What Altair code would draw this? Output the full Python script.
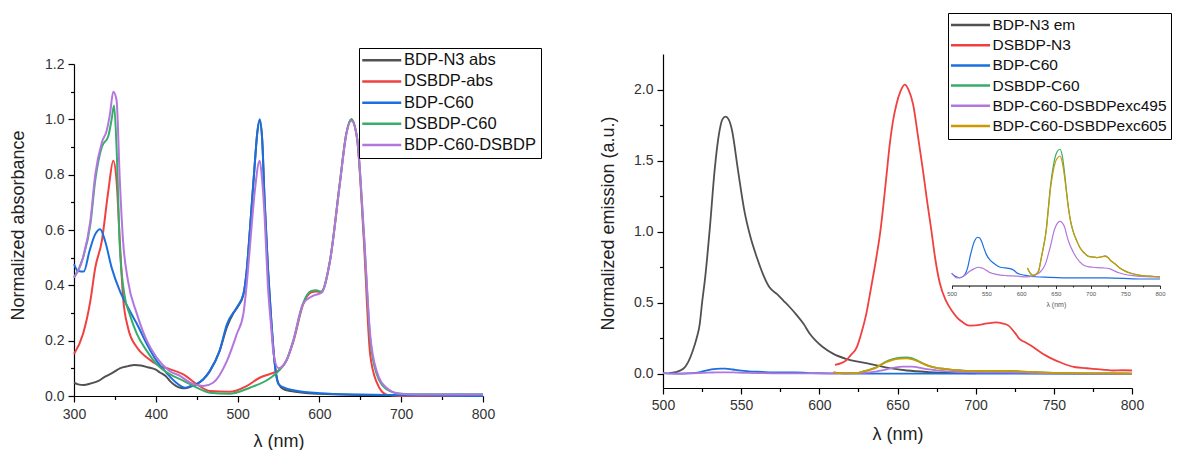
import altair as alt
import pandas as pd

FONT = "Liberation Sans"

# ---------------- Left panel: absorbance ----------------
abs_names = ["BDP-N3 abs", "DSBDP-abs", "BDP-C60", "DSBDP-C60", "BDP-C60-DSBDP"]
abs_colors = ["#515151", "#F14040", "#1A6FDF", "#37AD6B", "#B177DE"]

bdpn3_abs_wl = [300, 305, 312, 320, 330, 338, 348, 356, 366, 374, 382, 390, 400, 405, 412, 418, 425, 430, 436,
                442, 450, 458, 466, 478, 487, 495, 500, 507, 511, 515, 521, 524, 527, 530, 533, 537, 541, 545,
                550, 556, 565, 580, 600, 650, 700, 800]
bdpn3_abs_val = [0.048, 0.042, 0.040, 0.045, 0.055, 0.070, 0.085, 0.100, 0.108, 0.112, 0.110, 0.104, 0.095,
                 0.085, 0.072, 0.052, 0.036, 0.030, 0.028, 0.033, 0.043, 0.060, 0.090, 0.163, 0.250, 0.300,
                 0.322, 0.365, 0.450, 0.600, 0.840, 0.950, 0.995, 0.930, 0.710, 0.470, 0.280, 0.130, 0.045,
                 0.025, 0.018, 0.012, 0.008, 0.004, 0.002, 0.0]

dsbdp_abs_wl = [300, 311, 320, 326, 334, 342, 348, 352, 356, 360, 366, 377, 389, 405, 417, 433, 450, 466, 490,
                511, 527, 540, 550, 560, 568, 580, 590, 596, 602, 613, 625, 633, 639, 646, 654, 662, 670, 682,
                698, 800]
dsbdp_abs_val = [0.152, 0.224, 0.344, 0.464, 0.560, 0.742, 0.850, 0.778, 0.560, 0.356, 0.247, 0.175, 0.139,
                 0.108, 0.097, 0.079, 0.043, 0.018, 0.015, 0.036, 0.066, 0.080, 0.092, 0.130, 0.195, 0.330,
                 0.375, 0.378, 0.375, 0.490, 0.770, 0.950, 1.000, 0.930, 0.580, 0.152, 0.050, 0.005, 0.0, 0.0]

bdpc60_abs_wl = [300, 305, 312, 319, 326, 332, 338, 346, 356, 366, 377, 389, 401, 413, 425, 436, 442, 450, 466,
                 478, 487, 499, 507, 511, 515, 521, 524, 527, 530, 533, 537, 541, 545, 550, 557, 570, 600, 650,
                 700, 800]
bdpc60_abs_val = [0.477, 0.452, 0.450, 0.525, 0.585, 0.603, 0.560, 0.464, 0.380, 0.320, 0.260, 0.188, 0.127,
                  0.084, 0.048, 0.030, 0.035, 0.043, 0.090, 0.163, 0.260, 0.320, 0.368, 0.450, 0.597, 0.840,
                  0.950, 1.000, 0.930, 0.705, 0.464, 0.283, 0.127, 0.043, 0.030, 0.020, 0.010, 0.005, 0.003, 0.0]

dsbdpc60_abs_wl = [300, 311, 320, 326, 334, 342, 346, 349, 352, 356, 362, 368, 377, 389, 401, 417, 434, 450,
                   466, 490, 515, 540, 550, 560, 568, 580, 590, 596, 602, 613, 625, 633, 639, 646, 654, 662,
                   670, 682, 700, 720, 800]
dsbdpc60_abs_val = [0.428, 0.500, 0.620, 0.780, 0.900, 0.940, 1.000, 1.050, 0.900, 0.540, 0.360, 0.296, 0.224,
                    0.163, 0.115, 0.079, 0.055, 0.030, 0.012, 0.008, 0.030, 0.065, 0.090, 0.130, 0.200, 0.335,
                    0.380, 0.382, 0.378, 0.490, 0.770, 0.950, 1.000, 0.935, 0.600, 0.210, 0.080, 0.025, 0.008,
                    0.006, 0.006]

triad_abs_wl = [300, 311, 320, 326, 334, 340, 344, 348, 352, 356, 360, 366, 377, 389, 401, 417, 430, 442, 458,
                470, 487, 499, 507, 511, 515, 521, 527, 530, 533, 537, 541, 544, 550, 560, 568, 580, 592, 603,
                613, 625, 633, 639, 646, 654, 662, 670, 682, 698, 720, 800]
triad_abs_val = [0.428, 0.500, 0.633, 0.800, 0.916, 0.960, 1.020, 1.100, 1.070, 0.780, 0.560, 0.416, 0.296,
                 0.200, 0.139, 0.090, 0.072, 0.048, 0.036, 0.048, 0.127, 0.224, 0.296, 0.400, 0.537, 0.740,
                 0.850, 0.780, 0.650, 0.400, 0.250, 0.152, 0.100, 0.130, 0.199, 0.333, 0.362, 0.374, 0.488,
                 0.766, 0.947, 0.995, 0.934, 0.609, 0.224, 0.090, 0.030, 0.008, 0.005, 0.005]

# ---------------- Right panel: emission ----------------
em_names = ["BDP-N3 em", "DSBDP-N3", "BDP-C60", "DSBDP-C60", "BDP-C60-DSBDPexc495", "BDP-C60-DSBDPexc605"]
em_colors = ["#515151", "#F14040", "#1A6FDF", "#37AD6B", "#B177DE", "#CC9900"]
inset_names = ["BDP-C60", "DSBDP-C60", "BDP-C60-DSBDPexc495", "BDP-C60-DSBDPexc605"]

bdpn3_em_wl = [504, 508, 513, 516, 519, 521.5, 523.5, 525, 527, 530, 533, 536, 538, 540, 542, 544, 548, 552,
               556, 560, 564, 568, 573, 577, 581, 585, 590, 594, 598, 602, 609, 617, 630, 645, 656, 670, 685, 700]
bdpn3_em_val = [0.005, 0.012, 0.035, 0.08, 0.16, 0.25, 0.35, 0.50, 0.68, 1.03, 1.43, 1.70, 1.79, 1.81, 1.79,
                1.72, 1.43, 1.15, 0.96, 0.82, 0.70, 0.61, 0.56, 0.515, 0.47, 0.42, 0.35, 0.28, 0.23, 0.19, 0.14,
                0.105, 0.075, 0.04, 0.023, 0.012, 0.006, 0.003]

dsbdpn3_em_wl = [610, 614, 617, 620, 624, 627, 630, 633, 636.5, 639, 641, 643, 645, 647, 649.3, 652, 654.6, 657,
                 660, 663, 666.3, 669, 671.7, 674, 677, 681, 685, 688, 692, 696, 700, 705, 709, 713, 717, 721,
                 725, 728, 732, 737, 741, 745, 750, 754, 759, 764, 770, 775, 781, 788, 794, 800]
dsbdpn3_em_val = [0.063, 0.075, 0.093, 0.13, 0.187, 0.29, 0.42, 0.60, 0.82, 1.0, 1.19, 1.40, 1.61, 1.77, 1.895,
                  1.99, 2.035, 2.0, 1.895, 1.68, 1.43, 1.21, 1.006, 0.82, 0.64, 0.514, 0.44, 0.397, 0.36, 0.339,
                  0.34, 0.35, 0.357, 0.362, 0.355, 0.339, 0.29, 0.245, 0.22, 0.187, 0.155, 0.128, 0.10, 0.081,
                  0.06, 0.046, 0.04, 0.035, 0.03, 0.023, 0.025, 0.023]

bdpc60_em_wl = [500, 505, 512, 519, 523, 526, 529, 531, 534, 537, 540, 543, 546, 550, 555, 560, 565, 570, 577,
                584, 590, 594, 600, 608, 620, 640, 675, 723, 771, 800]
bdpc60_em_val = [0.005, 0.0024, 0.001, 0.004, 0.01, 0.0186, 0.026, 0.0305, 0.035, 0.037, 0.0365, 0.0334, 0.028,
                 0.0216, 0.017, 0.0142, 0.012, 0.0104, 0.0098, 0.0092, 0.0075, 0.0053, 0.004, 0.003, 0.002,
                 0.0015, 0.001, 0.001, 0.0, 0.0]

c605_wl = [609, 613, 617, 621, 625, 629, 632, 636, 639, 642.5, 646, 649, 652, 656, 659, 662, 665, 668, 671, 675,
           680, 685, 691, 697, 703, 709, 715, 721, 725, 730, 736, 742, 750, 757, 771, 785, 800]
dsbdpc60_em_val = [0.0098, 0.0053, 0.0032, 0.004, 0.0068, 0.0186, 0.028, 0.043, 0.062, 0.084, 0.099, 0.108,
                   0.113, 0.115, 0.110, 0.097, 0.080, 0.064, 0.052, 0.042, 0.034, 0.0275, 0.023, 0.0201, 0.0195,
                   0.019, 0.0195, 0.0205, 0.019, 0.0157, 0.013, 0.0098, 0.007, 0.0053, 0.0032, 0.0025, 0.0018]
exc605_em_val = [0.0098, 0.0053, 0.0032, 0.004, 0.0068, 0.0186, 0.028, 0.042, 0.060, 0.081, 0.095, 0.103, 0.107,
                 0.109, 0.104, 0.093, 0.078, 0.063, 0.052, 0.042, 0.034, 0.0275, 0.023, 0.0201, 0.0195, 0.019,
                 0.0195, 0.0201, 0.019, 0.0157, 0.013, 0.0098, 0.007, 0.0053, 0.0032, 0.0025, 0.0018]

exc495_wl = [500, 507, 517, 526, 532, 538, 543, 548, 554, 560, 570, 579, 595, 608, 616, 622, 627, 632, 636, 639,
             643, 646, 650, 653, 656, 659, 663, 666, 670, 675, 680, 689, 696, 703, 710, 718, 728, 735, 742, 750,
             761, 780, 800]
exc495_em_val = [0.0053, 0.001, 0.0024, 0.0068, 0.009, 0.0104, 0.0098, 0.0085, 0.006, 0.0047, 0.0035, 0.003,
                 0.0025, 0.0018, 0.0025, 0.004, 0.006, 0.0098, 0.015, 0.0216, 0.031, 0.0394, 0.047, 0.050,
                 0.051, 0.050, 0.0453, 0.038, 0.0305, 0.024, 0.0186, 0.0127, 0.011, 0.0104, 0.010, 0.0098,
                 0.009, 0.007, 0.0053, 0.004, 0.003, 0.002, 0.0018]


def long_table(names, wls, vals):
    rows = []
    for k, (n, w, v) in enumerate(zip(names, wls, vals)):
        for a, b in zip(w, v):
            rows.append({"series": n, "k": k, "wl": a, "val": b})
    return pd.DataFrame(rows)


abs_df = long_table(abs_names,
                    [bdpn3_abs_wl, dsbdp_abs_wl, bdpc60_abs_wl, dsbdpc60_abs_wl, triad_abs_wl],
                    [bdpn3_abs_val, dsbdp_abs_val, bdpc60_abs_val, dsbdpc60_abs_val, triad_abs_val])
em_df = long_table(em_names,
                   [bdpn3_em_wl, dsbdpn3_em_wl, bdpc60_em_wl, c605_wl, exc495_wl, c605_wl],
                   [bdpn3_em_val, dsbdpn3_em_val, bdpc60_em_val, dsbdpc60_em_val, exc495_em_val, exc605_em_val])

# ticks
left_x_ticks = list(range(300, 801, 50))
left_y_ticks = [round(i * 0.1, 1) for i in range(0, 13)]
right_x_ticks = list(range(500, 801, 25))
right_y_ticks = [i * 0.25 for i in range(0, 9)]

TICK_COL = "black"
LAB_COL = "#333333"


def axis(values, major_test, minor_size, major_size, fmt=None, **kw):
    d = dict(values=values, grid=False, domainColor="black", domainWidth=1.2, tickColor=TICK_COL, tickWidth=1.2,
             tickSize={"condition": {"test": "!(" + major_test + ")", "value": minor_size}, "value": major_size},
             labelExpr="(" + major_test + ") ? datum.label : ''", labelFont=FONT, labelColor=LAB_COL,
             labelOverlap=False, labelFlush=False, titleFont=FONT, titleColor="#222222", titleFontWeight="normal")
    if fmt:
        d["format"] = fmt
    d.update(kw)
    return alt.Axis(**d)


PLOT_TOP_EXTRA = 10
LH = 342  # left view height (plot spans 10..342)
RH = 334

left_legend = alt.Legend(orient="none", legendX=285, legendY=-6, title=None, symbolType="M-1,0H5",
                         symbolSize=169, symbolStrokeWidth=2.5, symbolOffset=-2.5, labelFont=FONT,
                         labelFontSize=16.5, labelColor="#111111", labelOffset=27, labelLimit=400,
                         strokeColor="black", fillColor="white", padding=4, rowPadding=4.2)

left = alt.Chart(abs_df).mark_line(strokeWidth=2, interpolate="monotone").encode(
    x=alt.X("wl:Q", title="λ (nm)", scale=alt.Scale(domain=[300, 800], nice=False, zero=False),
            axis=axis(left_x_ticks, "datum.value % 100 == 0", 3.5, 6, labelFontSize=14, labelPadding=5,
                      titleFontSize=18, titleY=45, titleBaseline="middle")),
    y=alt.Y("val:Q", title="Normalized absorbance",
            scale=alt.Scale(domain=[0, 1.2], nice=False, zero=False, range=[LH, PLOT_TOP_EXTRA]),
            axis=axis(left_y_ticks, "round(datum.value*10) % 2 == 0", 3.5, 6, fmt=".1f", labelFontSize=14,
                      labelPadding=4, titleFontSize=18, titleX=-56, titleY=171, titleBaseline="middle")),
    color=alt.Color("series:N", scale=alt.Scale(domain=abs_names, range=abs_colors), legend=left_legend),
    detail="k:N",
).properties(width=409, height=LH)

right_legend = alt.Legend(orient="none", legendX=285, legendY=-41, title=None, symbolType="M-1,0H5",
                          symbolSize=169, symbolStrokeWidth=2.5, symbolOffset=-2.5, labelFont=FONT,
                          labelFontSize=15.5, labelColor="#111111", labelOffset=27, labelLimit=400,
                          strokeColor="black", fillColor="white", padding=4, rowPadding=3.2)

em_color = alt.Color("series:N", scale=alt.Scale(domain=em_names, range=em_colors), legend=right_legend)

main = alt.Chart(em_df).mark_line(strokeWidth=1.8, interpolate="monotone").encode(
    x=alt.X("wl:Q", title="λ (nm)", scale=alt.Scale(domain=[500, 800], nice=False, zero=False),
            axis=axis(right_x_ticks, "datum.value % 50 == 0", 3.5, 6, labelFontSize=14, labelPadding=4,
                      titleFontSize=18, titleY=46, titleBaseline="middle", orient="bottom")),
    y=alt.Y("val:Q", title="Normalized emission (a.u.)",
            scale=alt.Scale(domain=[-0.1, 2.25], nice=False, zero=False),
            axis=axis(right_y_ticks, "round(datum.value*4) % 2 == 0", 3.5, 6, fmt=".1f", labelFontSize=14,
                      labelPadding=4, titleFontSize=18, titleX=-55, titleY=169, titleBaseline="middle")),
    color=em_color,
    detail="k:N",
)

inset = alt.Chart(em_df).transform_filter(
    alt.FieldOneOfPredicate(field="series", oneOf=inset_names)
).mark_line(strokeWidth=1.2, interpolate="monotone").encode(
    x=alt.X("wl:Q", title="λ (nm)", scale=alt.Scale(domain=[500, 800], nice=False, zero=False, range=[288.7, 497]),
            axis=axis(right_x_ticks, "datum.value % 50 == 0", 1.5, 3, labelFontSize=6, labelPadding=2,
                      labelColor="#555555", domainWidth=1, tickWidth=0.8, titleFontSize=7, titleColor="#555555",
                      titleY=19, titleBaseline="middle", orient="bottom", offset=-102.5)),
    y=alt.Y("val:Q", scale=alt.Scale(domain=[0, 0.12], nice=False, zero=False, range=[225, 89.6]), axis=None),
    color=em_color,
    detail="k:N",
)

right = alt.layer(main, inset).resolve_scale(x="independent", y="independent").properties(width=469, height=RH)

chart = alt.hconcat(left, right, spacing=180, bounds="flush").resolve_scale(color="independent").properties(
    padding={"left": 1, "top": 4, "right": 0, "bottom": 0}
).configure(font=FONT).configure_view(stroke=None)

chart.save("out.html", embed_options={"renderer": "svg", "actions": False})
